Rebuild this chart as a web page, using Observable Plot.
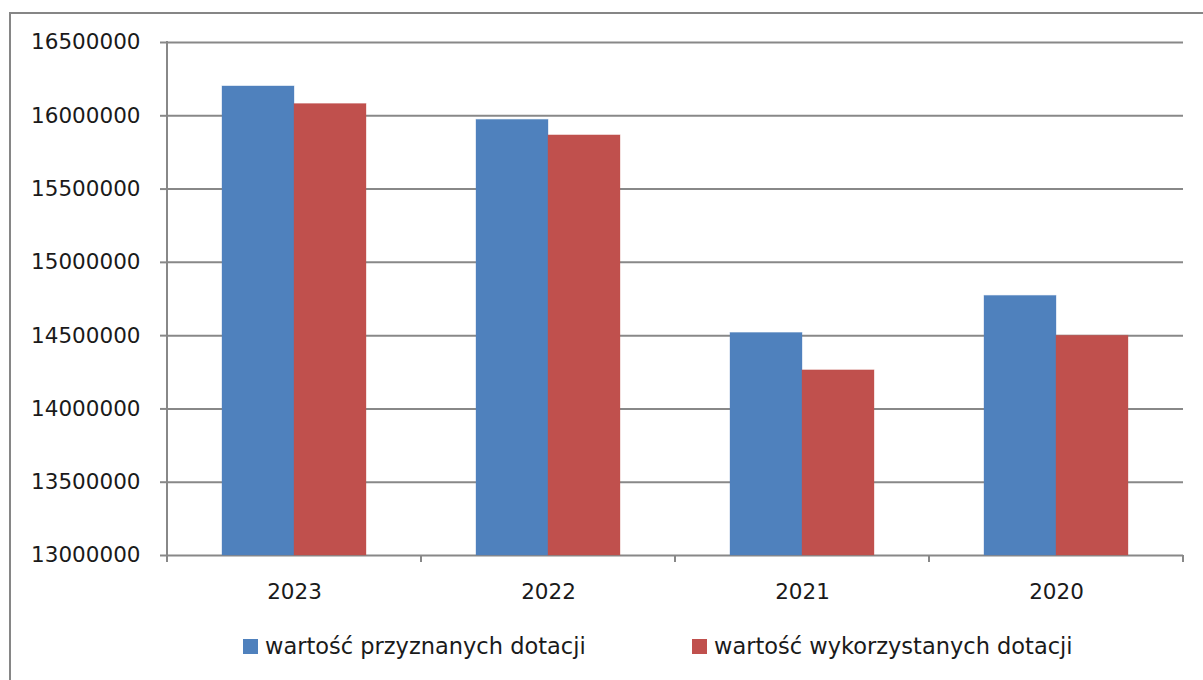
<!DOCTYPE html>
<html>
<head>
<meta charset="utf-8">
<script src="https://cdn.jsdelivr.net/npm/d3@7"></script>
<script src="https://cdn.jsdelivr.net/npm/@observablehq/plot@0.6"></script>
<style>
  html, body { margin: 0; padding: 0; background: #fff; overflow: hidden; }
  body { width: 1203px; height: 680px; position: relative; font-family: "DejaVu Sans", sans-serif; }
  #frame { position: absolute; left: 9px; top: 12px; width: 1400px; height: 900px;
           border-left: 2px solid #868686; border-top: 2px solid #868686; }
  #chart { position: absolute; left: 0; top: 0; }
  .leg { position: absolute; top: 633px; display: flex; align-items: center;
         font-size: 22.5px; color: #1a1a1a; white-space: nowrap; }
  .sw { width: 15px; height: 15px; margin-right: 7px; display: inline-block; }
</style>
</head>
<body>
<div id="frame"></div>
<div id="chart"></div>
<div id="leg0" class="leg" style="left:243px"></div>
<div id="leg1" class="leg" style="left:692px"></div>
<script>
const years = ["2023", "2022", "2021", "2020"];
const seriesNames = ["wartość przyznanych dotacji", "wartość wykorzystanych dotacji"];
const granted = [16200000, 15972000, 14518000, 14771000];
const used = [16080000, 15866000, 14263000, 14499000];
const yTicks = [13000000, 13500000, 14000000, 14500000, 15000000, 15500000, 16000000, 16500000];
const colors = ["#4F81BD", "#C0504D"];

const gridColor = "#888888";
const data = [];
years.forEach((y, i) => {
  data.push({year: y, series: seriesNames[0], value: granted[i]});
  data.push({year: y, series: seriesNames[1], value: used[i]});
});

const yMin = yTicks[0], yMax = yTicks[yTicks.length - 1];

function axisDecor(index, scales, values, dimensions, context, next) {
  const {width, marginLeft, marginRight} = dimensions;
  const g = d3.create("svg:g").attr("stroke", gridColor).attr("stroke-width", 2).attr("fill", "none");
  const yb = scales.y(yMin), yt = scales.y(yMax);
  let edges;
  if (scales.fx && scales.fx.bandwidth) {
    edges = years.map(y => scales.fx(y));
    edges.push(scales.fx(years[years.length - 1]) + scales.fx.bandwidth());
  } else {
    const step = (width - marginLeft - marginRight) / years.length;
    edges = d3.range(years.length + 1).map(i => marginLeft + i * step);
  }
  g.append("line").attr("x1", edges[0]).attr("x2", edges[0]).attr("y1", yt - 1).attr("y2", yb + 7);
  edges.forEach(x => g.append("line").attr("x1", x).attr("x2", x).attr("y1", yb).attr("y2", yb + 7));
  return g.node();
}

const chart = Plot.plot({
  width: 1203,
  height: 680,
  marginLeft: 166,
  marginRight: 19,
  marginTop: 42,
  marginBottom: 125,
  style: {background: "transparent", fontFamily: "DejaVu Sans, sans-serif", overflow: "visible"},
  fx: {domain: years, padding: 0, label: null},
  x: {domain: seriesNames, paddingInner: 0, paddingOuter: 0.755, axis: null},
  y: {domain: [yMin, yMax], label: null},
  color: {domain: seriesNames, range: colors},
  marks: [
    Plot.ruleY(yTicks, {y: d => d, stroke: gridColor, strokeWidth: 2}),
    Plot.barY(data, {fx: "year", x: "series", y1: yMin, y2: "value", fill: "series",
                     stroke: "series", strokeOpacity: 0.35, strokeWidth: 1}),
    Plot.frame({facet: "super", stroke: "none", render: axisDecor}),
    Plot.axisY({ticks: yTicks, tickFormat: d => String(d), tickSize: 7, tickPadding: 20,
                fontSize: 21.5, stroke: gridColor, strokeWidth: 2, fill: "#1a1a1a", label: null}),
    Plot.axisFx({anchor: "bottom", tickSize: 0, tickPadding: 28, fontSize: 21.5, fill: "#1a1a1a", label: null})
  ]
});
document.getElementById("chart").appendChild(chart);

seriesNames.forEach((s, i) => {
  const el = document.getElementById("leg" + i);
  const sw = document.createElement("span");
  sw.className = "sw";
  sw.style.background = colors[i];
  el.appendChild(sw);
  el.appendChild(document.createTextNode(s));
});
</script>
</body>
</html>
